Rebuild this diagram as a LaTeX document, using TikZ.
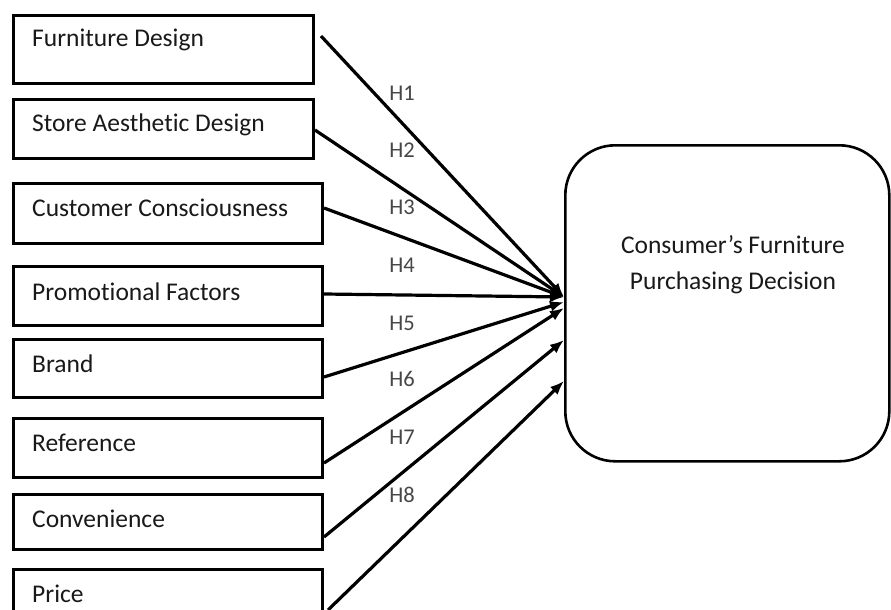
\documentclass[tikz,border=0pt]{standalone}
\usepackage{fontspec}
\setmainfont{Carlito}[Ligatures=NoCommon]
\usetikzlibrary{arrows.meta,calc}
\begin{document}
\begin{tikzpicture}[x=1pt,y=-1pt,
  factor/.style={draw=black,line width=3pt,minimum width=#1,inner sep=0pt,anchor=north west},
  lbl/.style={anchor=west,inner sep=0pt,text=black!90,font=\fontsize{25.5}{30}\selectfont},
  hyp/.style={inner sep=0pt,text=black!72,font=\fontsize{22.5}{26}\selectfont},
  link/.style={line width=3.2pt,-{Latex[length=14pt,width=11pt]}},
  decision/.style={draw=black,line width=2.6pt,rounded corners=50pt,inner sep=0pt,anchor=north west}]
\clip (0,0) rectangle (891,610);
\fill[white] (0,0) rectangle (891,610);

% factor boxes
\node[factor=300pt,minimum height=68pt] (b1) at (12,14) {};
\node[factor=300pt,minimum height=59pt] (b2) at (12,98) {};
\node[factor=309pt,minimum height=60pt] (b3) at (12,182) {};
\node[factor=309pt,minimum height=59pt] (b4) at (12,265) {};
\node[factor=309pt,minimum height=58pt] (b5) at (12,338) {};
\node[factor=309pt,minimum height=59pt] (b6) at (12,417) {};
\node[factor=309pt,minimum height=55pt] (b7) at (12,493) {};
\node[factor=309pt,minimum height=60pt] (b8) at (12,568) {};

\node[lbl] (l1) at (32,40) {Furniture Design};
\node[lbl] (l2) at (32,125) {Store Aesthetic Design};
\node[lbl] (l3) at (32,208) {Customer Consciousness};
\node[lbl] (l4) at (32,292) {Promotional Factors};
\node[lbl] (l5) at (32,364) {Brand};
\node[lbl] (l6) at (32,443) {Reference};
\node[lbl] (l7) at (32,519) {Convenience};
\node[lbl] (l8) at (32,594) {Price};

% outcome box
\node[decision,minimum width=324pt,minimum height=316pt] (dec) at (564,144) {};
\node[align=center,inner sep=0pt,text=black!90,font=\fontsize{25.5}{36}\selectfont]
  (dtxt) at (733,265) {Consumer’s Furniture\\Purchasing Decision};

% start points on the factor boxes
\coordinate (s1) at ($(b1.north east)+(6,22)$);
\coordinate (s2) at ($(b2.north east)+(0,32)$);
\coordinate (s3) at ($(b3.north east)+(0,26)$);
\coordinate (s4) at ($(b4.north east)+(0,29)$);
\coordinate (s5) at ($(b5.north east)+(0,39)$);
\coordinate (s6) at ($(b6.north east)+(0,46)$);
\coordinate (s7) at ($(b7.north east)+(0,44)$);
\coordinate (s8) at ($(b8.north east)+(4,42)$);

% end points on the outcome box
\coordinate (t1) at ($(dec.north west)+(0,153)$);
\coordinate (t5) at ($(dec.north west)+(0,158)$);
\coordinate (t6) at ($(dec.north west)+(0,164)$);
\coordinate (t7) at ($(dec.north west)+(0,196)$);
\coordinate (t8) at ($(dec.north west)+(0,237)$);

\draw[link] (s1) -- (t1);
\draw[link] (s2) -- (t1);
\draw[link] (s3) -- (t1);
\draw[link] (s4) -- (t1);
\draw[link] (s5) -- (t5);
\draw[link] (s6) -- (t6);
\draw[link] (s7) -- (t7);
\draw[link] (s8) -- (t8);

% hypothesis labels
\node[hyp] (h1) at (402,93) {H1};
\node[hyp] (h2) at (402,150) {H2};
\node[hyp] (h3) at (402,207) {H3};
\node[hyp] (h4) at (402,265) {H4};
\node[hyp] (h5) at (402,323) {H5};
\node[hyp] (h6) at (402,379) {H6};
\node[hyp] (h7) at (402,437) {H7};
\node[hyp] (h8) at (402,495) {H8};
\end{tikzpicture}
\end{document}
